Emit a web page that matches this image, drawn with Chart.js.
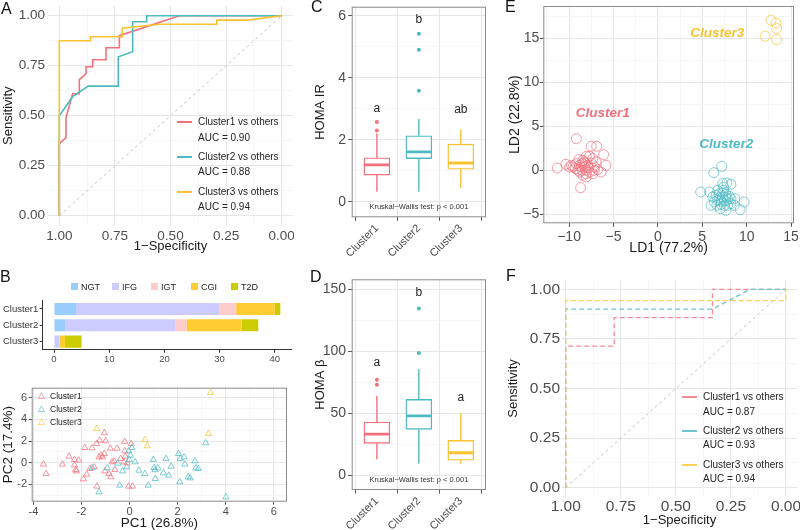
<!DOCTYPE html>
<html>
<head>
<meta charset="utf-8">
<script src="https://cdn.jsdelivr.net/npm/chart.js@4.4.1/dist/chart.umd.min.js"></script>
<style>
  body { margin: 0; background: #fff; }
  #fig { position: relative; width: 800px; height: 530px; overflow: hidden; background: #fff;
         font-family: "Liberation Sans", Arial, sans-serif; color: #1a1a1a; }
  canvas { position: absolute; }
  .tag { position: absolute; font-size: 16px; line-height: 16px; color: #111; }
  .txt { position: absolute; white-space: nowrap; line-height: 1; color: #222; }
  .key { position: absolute; height: 1.6px; width: 15px; }
  .sq { position: absolute; width: 7px; height: 7px; }
</style>
</head>
<body>
<div id="fig">
  <canvas id="rocA" width="294" height="262" style="left:0;top:0"></canvas>
  <canvas id="barB" width="292" height="80" style="left:0;top:290px"></canvas>
  <canvas id="pcaB" width="292" height="152" style="left:0;top:380px"></canvas>
  <canvas id="boxC" width="200" height="265" style="left:290px;top:0"></canvas>
  <canvas id="boxD" width="200" height="265" style="left:290px;top:265px"></canvas>
  <canvas id="ldaE" width="310" height="265" style="left:490px;top:0"></canvas>
  <canvas id="rocF" width="310" height="265" style="left:490px;top:265px"></canvas>

  <div class="tag" style="left:1px;top:1px">A</div>
  <div class="tag" style="left:0;top:269px">B</div>
  <div class="tag" style="left:311px;top:-1px">C</div>
  <div class="tag" style="left:310px;top:269px">D</div>
  <div class="tag" style="left:505px;top:-1px">E</div>
  <div class="tag" style="left:506px;top:268px">F</div>

  <!-- legend A -->
  <div class="key" style="left:177px;top:121px;background:#F4707C"></div>
  <div class="txt" style="left:198px;top:117px;font-size:10px">Cluster1 vs others</div>
  <div class="txt" style="left:198px;top:133px;font-size:10px">AUC = 0.90</div>
  <div class="key" style="left:177px;top:156px;background:#4DBBC4"></div>
  <div class="txt" style="left:198px;top:152px;font-size:10px">Cluster2 vs others</div>
  <div class="txt" style="left:198px;top:167px;font-size:10px">AUC = 0.88</div>
  <div class="key" style="left:177px;top:191px;background:#F9C22E"></div>
  <div class="txt" style="left:198px;top:187px;font-size:10px">Cluster3 vs others</div>
  <div class="txt" style="left:198px;top:202px;font-size:10px">AUC = 0.94</div>

  <!-- legend F -->
  <div class="key" style="left:682px;top:396px;background:#F58B95"></div>
  <div class="txt" style="left:703px;top:392px;font-size:10px">Cluster1 vs others</div>
  <div class="txt" style="left:703px;top:407px;font-size:10px">AUC = 0.87</div>
  <div class="key" style="left:682px;top:430px;background:#6CC6CE"></div>
  <div class="txt" style="left:703px;top:426px;font-size:10px">Cluster2 vs others</div>
  <div class="txt" style="left:703px;top:440px;font-size:10px">AUC = 0.93</div>
  <div class="key" style="left:682px;top:464px;background:#FAD35C"></div>
  <div class="txt" style="left:703px;top:460px;font-size:10px">Cluster3 vs others</div>
  <div class="txt" style="left:703px;top:474px;font-size:10px">AUC = 0.94</div>

  <!-- legend B bars -->
  <div class="sq" style="left:71px;top:283px;background:#99CCFF"></div>
  <div class="txt" style="left:81px;top:283px;font-size:9px">NGT</div>
  <div class="sq" style="left:112px;top:283px;background:#CCCCFF"></div>
  <div class="txt" style="left:122px;top:283px;font-size:9px">IFG</div>
  <div class="sq" style="left:151px;top:283px;background:#FFCCCC"></div>
  <div class="txt" style="left:161px;top:283px;font-size:9px">IGT</div>
  <div class="sq" style="left:191px;top:283px;background:#FFCC33"></div>
  <div class="txt" style="left:201px;top:283px;font-size:9px">CGI</div>
  <div class="sq" style="left:231px;top:283px;background:#CCCC00"></div>
  <div class="txt" style="left:241px;top:283px;font-size:9px">T2D</div>

  <!-- legend B pca -->
  <div class="txt" style="left:38px;top:391px;font-size:9px;color:#F4707C">&#9651;</div>
  <div class="txt" style="left:50px;top:392px;font-size:8.5px">Cluster1</div>
  <div class="txt" style="left:38px;top:404px;font-size:9px;color:#4DBBC4">&#9651;</div>
  <div class="txt" style="left:50px;top:405px;font-size:8.5px">Cluster2</div>
  <div class="txt" style="left:38px;top:417px;font-size:9px;color:#F9C22E">&#9651;</div>
  <div class="txt" style="left:50px;top:418px;font-size:8.5px">Cluster3</div>
</div>

<script>
Chart.defaults.font.family = '"Liberation Sans", Arial, sans-serif';
Chart.defaults.color = '#4D4D4D';

const CLUSTERS = ['Cluster1', 'Cluster2', 'Cluster3'];
const COLORS = ['#F4707C', '#4DBBC4', '#F9C22E'];
const COLORS_F = ['#F58B95', '#6CC6CE', '#FAD35C'];

// A: ROC, training set  [specificity, sensitivity]
const rocA1 = [[1,0],[1,0.36],[0.97,0.39],[0.97,0.49],[0.94,0.61],[0.91,0.61],[0.91,0.68],[0.88,0.71],[0.88,0.745],[0.85,0.745],[0.85,0.78],[0.79,0.78],[0.79,0.84],[0.73,0.84],[0.73,0.90],[0.46,1],[0,1]];
const rocA2 = [[1,0],[1,0.5],[0.94,0.595],[0.87,0.648],[0.735,0.648],[0.735,0.795],[0.67,0.82],[0.67,0.97],[0.607,0.97],[0.607,1],[0,1]];
const rocA3 = [[1,0],[1,0.875],[0.86,0.875],[0.86,0.895],[0.717,0.895],[0.717,0.937],[0.55,0.957],[0.292,0.957],[0.292,0.978],[0.152,0.978],[0,1]];

// B: diagnosis counts per cluster
const GROUPS = ['NGT', 'IFG', 'IGT', 'CGI', 'T2D'];
const GROUP_COLORS = ['#99CCFF', '#CCCCFF', '#FFCCCC', '#FFCC33', '#CCCC00'];
const ngt = [4, 2, 0];
const ifg = [26, 20, 1];
const igt = [3, 2, 0];
const cgi = [7, 10, 1];
const t2d = [1, 3, 3];

// B: PCA scores [PC1, PC2]
const pca1 = [[-3.58,-0.15],[-3.47,-1.02],[-2.79,-0.15],[-2.52,0.58],[-2.29,0.28],[-2.12,0.22],[-2.24,-0.65],[-2.29,-0.22],[-2.22,-0.77],[-1.92,-1.51],
  [-1.78,-1.08],[-1.86,1.38],[-1.56,1.35],[-1.64,-0.55],[-1.47,-0.40],[-1.36,-2.18],[-1.37,1.75],[-1.24,2.06],[-1.27,0.52],[-1.18,0.68],
  [-1.13,0.52],[-1.05,2.74],[-0.99,2.0],[-1.05,0.83],[-1.02,-0.77],[-0.86,-1.02],[-0.78,-1.32],[-0.80,1.32],[-0.72,0.06],[-0.64,0.15],
  [-0.61,-0.65],[-0.52,1.32],[-0.37,0.37],[-0.24,0.06],[-0.20,1.94],[-0.20,1.08],[-0.18,0.58],[-0.10,-0.03],[-0.04,-2.18],[0.07,1.75],[0.12,-2.18]];
const pca2 = [[-1.56,-0.49],[-1.27,-2.71],[-0.93,-0.49],[-0.41,-2.09],[-0.29,-0.77],[-0.12,-0.40],[-0.04,1.08],[-0.01,0.28],[0.10,1.38],[0.23,0.06],
  [0.39,-0.71],[0.64,-1.02],[0.78,-2.09],[0.99,0.28],[1.02,-0.46],[1.07,-1.48],[1.18,-0.49],[1.41,-0.95],[1.52,0.37],[1.63,-1.17],
  [1.73,-0.34],[2.04,0.83],[2.11,0.37],[2.09,-1.78],[2.27,0.52],[2.30,-0.15],[2.44,-1.32],[2.52,-1.42],[2.72,0.15],[2.76,-0.49],
  [2.86,-0.55],[3.17,1.82],[4.01,-3.17],[0.03,0.68],[-0.49,-0.06],[1.06,-0.67]];
const pca3 = [[-1.36,3.14],[0.64,2.12],[0.73,1.54],[3.37,6.46],[3.29,2.68]];

// C: HOMA IR box stats
const irLow = [0.32, 0.32, 0.45];
const irQ1 = [0.86, 1.39, 1.05];
const irMed = [1.19, 1.61, 1.25];
const irQ3 = [1.42, 2.13, 1.86];
const irHigh = [2.2, 2.67, 2.33];
const irOut = [[2.3, 2.57], [3.58, 4.9, 5.42], []];
const irLetters = ['a', 'b', 'ab'];
const irLetterY = [3.0, 5.86, 2.96];

// D: HOMA beta box stats
const bLow = [12.7, 9.4, 9.4];
const bQ1 = [25.6, 36.9, 11.9];
const bMed = [33.1, 47.7, 18.0];
const bQ3 = [42.8, 61.1, 28.0];
const bHigh = [63.8, 85.4, 49.8];
const bOut = [[73, 77], [98.6, 134.6], []];
const bLetters = ['a', 'b', 'a'];
const bLetterY = [91, 147.6, 62.8];

// E: LDA scores [LD1, LD2]
const lda1 = [[-9.18,3.6],[-7.51,2.73],[-6.89,2.73],[-6.11,1.78],[-5.84,0.57],[-6.4,-0.19],[-11.33,0.26],[-10.37,0.68],[-9.92,0.38],[-8.7,-1.97],
  [-8.07,-0.76],[-8.44,-0.57],[-8.81,-0.19],[-9.55,0.38],[-9.18,0.76],[-8.89,1.22],[-8.44,1.14],[-8.07,1.59],[-7.7,1.59],[-7.51,0.83],
  [-7.89,0.57],[-8.26,0.38],[-8.63,0.38],[-7.14,0.38],[-7.14,0],[-7.7,-0.19],[-8.07,0],[-9.0,0],[-9.74,0.57],[-7.33,1.33],
  [-6.96,0.94],[-8.52,0.76],[-8.14,0.83],[-7.78,0.3],[-8.52,0],[-6.78,0.08],[-8.81,0.57],[-9.26,0.19],[-8.07,-0.38],[-7.33,-0.38],[-8.3,0.95]];
const lda2 = [[7.19,0.45],[6.3,-0.27],[7.3,-1.51],[7.78,-1.44],[8.22,-1.59],[4.82,-2.46],[5.82,-2.46],[9.71,-3.6],[9.27,-4.47],[7.67,-4.55],
  [8.67,-3.22],[6.19,-3.03],[6.56,-2.84],[6.93,-2.65],[7.3,-2.58],[7.67,-2.73],[8.04,-2.95],[8.22,-3.22],[7.86,-3.33],[7.49,-3.41],
  [7.11,-3.49],[6.74,-3.41],[6.37,-3.6],[6.66,-3.98],[7.11,-3.86],[7.49,-3.98],[7.86,-3.98],[8.22,-3.79],[6.93,-3.11],[7.3,-3.03],
  [7.67,-3.11],[6.0,-3.98],[8.6,-3.98],[7.04,-4.36],[7.41,-1.9],[6.74,-2.27],[7.41,-2.27]];
const lda3 = [[12.75,17.05],[13.31,16.74],[13.38,16.1],[12.08,15.23],[13.38,14.85]];
const ldaLabelPos = [[-6.2, 6.5], [7.7, 3.0], [6.7, 15.6]];

// F: ROC, validation set
const rocF1 = [[1,0],[1,0.714],[0.78,0.714],[0.78,0.857],[0.334,0.857],[0.334,1],[0,1]];
const rocF2 = [[1,0],[1,0.9],[0.334,0.9],[0.163,1],[0,1]];
const rocF3 = [[1,0],[1,0.943],[0,0.943],[0,1]];


/* helpers */

const xy = pts => pts.map(p => ({x: p[0], y: p[1]}));
const isMajor = (v, m) => Math.abs(v / m - Math.round(v / m)) < 1e-6;
const minus = v => (v < 0 ? '\u2212' + Math.abs(v) : '' + v);

function fixSize(w, h) {
    return function (scale) {
        if (w != null) scale.width = w;
        if (h != null) scale.height = h;
        scale.paddingLeft = scale.paddingRight = scale.paddingTop = scale.paddingBottom = 0;
    };
}

function linAxis(o) {
    const maj = c => c.tick ? isMajor(c.tick.value, o.major) : true;
    return {
        type: 'linear', min: o.min, max: o.max, reverse: !!o.reverse,
        afterFit: fixSize(o.w, o.h),
        ticks: {
            stepSize: o.step, includeBounds: false, autoSkip: false,
            maxRotation: o.rot || 0, minRotation: o.rot || 0,
            padding: o.pad, color: '#4D4D4D', font: {size: o.font},
            callback: v => isMajor(v, o.major) ? o.fmt(v) : ''
        },
        grid: {
            drawOnChartArea: o.grid !== false,
            drawTicks: !!o.tickLen, tickLength: o.tickLen || 0,
            color: c => maj(c) ? '#E6E6E6' : '#F3F3F3',
            lineWidth: c => maj(c) ? 1 : 0.7,
            tickColor: c => maj(c) ? '#555' : 'rgba(0,0,0,0)'
        },
        border: {display: !!o.border, color: '#333', width: 1},
        title: o.title ? {display: true, text: o.title, color: '#1A1A1A',
                          font: {size: o.titleSize}, padding: o.titlePad} : {display: false}
    };
}

const frame = {
    id: 'frame',
    afterDatasetsDraw(chart) {
        const a = chart.chartArea, ctx = chart.ctx;
        ctx.save();
        ctx.strokeStyle = '#8C8C8C';
        ctx.lineWidth = 1;
        ctx.strokeRect(a.left + 0.5, a.top + 0.5, a.right - a.left - 1, a.bottom - a.top - 1);
        ctx.restore();
    }
};

const notes = {
    id: 'notes',
    afterDatasetsDraw(chart, args, opts) {
        const ctx = chart.ctx, xs = chart.scales.x, ys = chart.scales.y;
        ctx.save();
        ctx.textAlign = 'center';
        ctx.textBaseline = 'middle';
        for (const n of opts.items || []) {
            ctx.font = n.font;
            ctx.fillStyle = n.color;
            ctx.fillText(n.text, xs.getPixelForValue(n.x), ys.getPixelForValue(n.y));
        }
        ctx.restore();
    }
};

const base = {
    responsive: false, animation: false, events: [],
    plugins: {legend: {display: false}, tooltip: {enabled: false}}
};


/* A and F: ROC curves */

function rocChart(id, curves, colors, dash, width, pad, yw, xh, yTitlePad, xTitlePad, tickFont, xTickPad) {
    const sets = curves.map((c, i) => ({
        data: xy(c), borderColor: colors[i], borderWidth: width, borderDash: dash,
        pointRadius: 0, tension: 0, order: 3 - i
    }));
    sets.push({data: xy([[1, 0], [0, 1]]), borderColor: '#C4C4C4', borderWidth: 1,
               borderDash: [3, 3], pointRadius: 0, order: 10});
    return new Chart(document.getElementById(id), {
        type: 'line',
        data: {datasets: sets},
        options: {
            ...base,
            layout: {padding: pad},
            scales: {
                x: linAxis({min: -0.05, max: pad.xmax, reverse: true, step: 0.125, major: 0.25,
                            fmt: v => v.toFixed(2), h: xh, pad: xTickPad, font: tickFont,
                            title: '1\u2212Specificity', titleSize: 13, titlePad: {top: 0, bottom: xTitlePad}}),
                y: linAxis({min: -0.05, max: 1.05, step: 0.125, major: 0.25,
                            fmt: v => v.toFixed(2), w: yw, pad: pad.ypad, font: tickFont,
                            title: 'Sensitivity', titleSize: 13, titlePad: {top: yTitlePad, bottom: 0}})
            }
        }
    });
}

rocChart('rocA', [rocA1, rocA2, rocA3], COLORS, [], 1.6,
         {top: 5.7, right: 1.2, xmax: 1.05, ypad: 3.2}, 48.2, 36.3, 0.5, 7.5, 13.5, 2);

rocChart('rocF', [rocF1, rocF2, rocF3], COLORS_F, [5, 3], 1.3,
         {top: 14.4, right: 3, xmax: 1.017, ypad: 2}, 72, 32.4, 15.2, 1.8, 15.5, 0);


/* B: stacked bars */

const groupCounts = [ngt, ifg, igt, cgi, t2d];

new Chart(document.getElementById('barB'), {
    type: 'bar',
    data: {
        labels: CLUSTERS,
        datasets: GROUPS.map((g, i) => ({
            label: g, data: groupCounts[i], backgroundColor: GROUP_COLORS[i],
            borderWidth: 0, barPercentage: 0.74, categoryPercentage: 1
        }))
    },
    options: {
        ...base,
        indexAxis: 'y',
        layout: {padding: {top: 10.8, right: 0.3}},
        scales: {
            x: {
                type: 'linear', stacked: true, min: -2.05, max: 43.06,
                afterFit: fixSize(null, 20.2),
                ticks: {stepSize: 10, includeBounds: false, padding: 1, font: {size: 9.5}, color: '#4D4D4D'},
                grid: {drawOnChartArea: false, tickLength: 3, tickColor: '#333'},
                border: {color: '#333'}
            },
            y: {
                stacked: true,
                afterFit: fixSize(42.7, null),
                ticks: {padding: 1.4, font: {size: 9.5}, color: '#333'},
                grid: {drawOnChartArea: false, offset: false, tickLength: 3, tickColor: '#333'},
                border: {color: '#333'}
            }
        }
    }
});


/* B: PCA scatter */

new Chart(document.getElementById('pcaB'), {
    type: 'scatter',
    data: {
        datasets: [pca1, pca2, pca3].map((p, i) => ({
            data: xy(p), pointStyle: 'triangle', pointRadius: 3.6, borderWidth: 1,
            borderColor: COLORS[i] + 'BB', backgroundColor: 'rgba(0,0,0,0)', order: 3 - i
        }))
    },
    options: {
        ...base,
        layout: {padding: {top: 7.7, right: 0.3}},
        scales: {
            x: linAxis({min: -4.07, max: 6.55, step: 1, major: 2, fmt: v => '' + v, h: 30.3,
                        pad: 1, font: 11, tickLen: 3, title: 'PC1 (26.8%)', titleSize: 13.5,
                        titlePad: {top: 0, bottom: 0.6}}),
            y: linAxis({min: -3.6, max: 6.92, step: 1, major: 2, fmt: v => '' + v, w: 31.7,
                        pad: 1.7, font: 11, tickLen: 3, title: 'PC2 (17.4%)', titleSize: 13.5,
                        titlePad: {top: 0.2, bottom: 0}})
        }
    },
    plugins: [frame]
});


/* C and D: box plots */

function boxChart(id, low, q1, med, q3, high, outs, letters, letterY, yOpt, pad, xh, kwY) {
    const sets = [{
        type: 'bar',
        data: CLUSTERS.map((c, i) => ({x: i + 1, y: [q1[i], q3[i]]})),
        backgroundColor: '#FFFFFF', borderColor: COLORS, borderWidth: 1.4,
        borderSkipped: false, barThickness: 26, grouped: false, order: 2
    }];
    CLUSTERS.forEach((c, i) => {
        const x = i + 1;
        sets.push({type: 'line', data: [{x, y: low[i]}, {x, y: q1[i]}, {x, y: null}, {x, y: q3[i]}, {x, y: high[i]}],
                   borderColor: COLORS[i], borderWidth: 1.4, pointRadius: 0, spanGaps: false, order: 3});
        sets.push({type: 'line', data: [{x: x - 0.3, y: med[i]}, {x: x + 0.3, y: med[i]}],
                   borderColor: COLORS[i], borderWidth: 2.8, pointRadius: 0, order: 1});
        sets.push({type: 'scatter', data: outs[i].map(v => ({x, y: v})),
                   backgroundColor: COLORS[i], borderWidth: 0, pointRadius: 2, order: 1});
    });
    const items = letters.map((t, i) => ({x: i + 1, y: letterY[i], text: t, color: '#222',
                                          font: '12px "Liberation Sans", Arial'}));
    items.push({x: 2, y: kwY, text: 'Kruskal\u2212Wallis test: p < 0.001', color: '#333',
                font: '7.5px "Liberation Sans", Arial'});
    return new Chart(document.getElementById(id), {
        type: 'bar',
        data: {datasets: sets},
        options: {
            ...base,
            layout: {padding: pad},
            plugins: {...base.plugins, notes: {items}},
            scales: {
                x: {
                    ...linAxis({min: 0.4, max: 3.6, step: 1, major: 1, fmt: v => CLUSTERS[v - 1],
                                h: xh, pad: 1, font: 11, tickLen: 3.5, rot: 45}),
                    offset: false
                },
                y: linAxis(yOpt)
            }
        },
        plugins: [frame, notes]
    });
}

boxChart('boxC', irLow, irQ1, irMed, irQ3, irHigh, irOut, irLetters, irLetterY,
         {min: -0.5, max: 6.29, step: 1, major: 2, fmt: v => '' + v, w: 61.7, pad: 2.2, font: 14,
          tickLen: 3.5, title: 'HOMA IR', titleSize: 13, titlePad: {top: 22.2, bottom: 0}},
         {top: 6.7, right: 0.7}, 47.7, -0.16);

boxChart('boxD', bLow, bQ1, bMed, bQ3, bHigh, bOut, bLetters, bLetterY,
         {min: -12.1, max: 158.1, step: 25, major: 50, fmt: v => '' + v, w: 61.7, pad: 2.2, font: 14,
          tickLen: 3.5, title: 'HOMA \u03B2', titleSize: 13, titlePad: {top: 22.2, bottom: 0}},
         {top: 14.3, right: 0.7}, 40, -4.0);


/* E: LDA scatter */

new Chart(document.getElementById('ldaE'), {
    type: 'scatter',
    data: {
        datasets: [lda1, lda2, lda3].map((p, i) => ({
            data: xy(p), pointStyle: 'circle', pointRadius: 5, borderWidth: 1,
            borderColor: COLORS[i] + 'B0', backgroundColor: 'rgba(0,0,0,0)', order: 3 - i
        }))
    },
    options: {
        ...base,
        layout: {padding: {top: 6, right: 3.3}},
        plugins: {
            ...base.plugins,
            notes: {items: CLUSTERS.map((c, i) => ({x: ldaLabelPos[i][0], y: ldaLabelPos[i][1], text: c,
                    color: COLORS[i], font: 'italic bold 13.5px "Liberation Sans", Arial'}))}
        },
        scales: {
            x: linAxis({min: -12.9, max: 15.33, step: 2.5, major: 5, fmt: minus, h: 41.7, pad: 2,
                        font: 14, tickLen: 3.5, title: 'LD1 (77.2%)', titleSize: 14,
                        titlePad: {top: 0, bottom: 8.3}}),
            y: linAxis({min: -6.02, max: 18.67, step: 2.5, major: 5, fmt: minus, w: 53.3, pad: 0.5,
                        font: 14, tickLen: 3.5, title: 'LD2 (22.8%)', titleSize: 14,
                        titlePad: {top: 16.6, bottom: 0}})
        }
    },
    plugins: [frame, notes]
});
</script>
</body>
</html>
